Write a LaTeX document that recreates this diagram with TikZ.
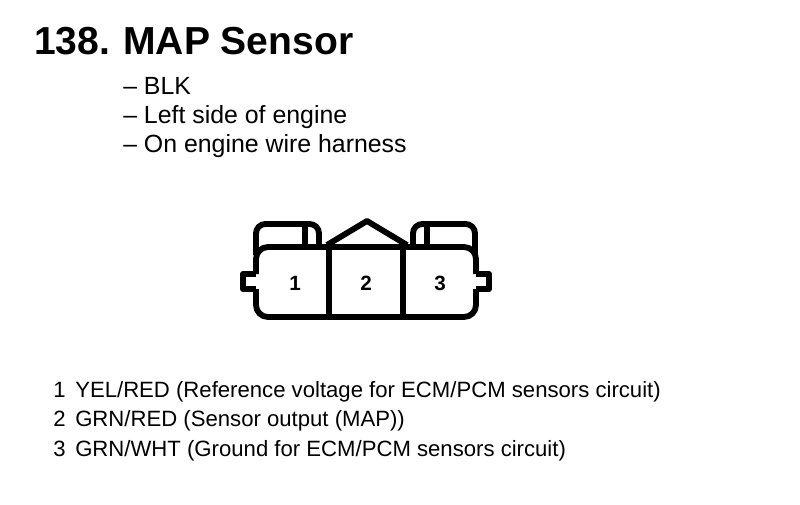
\documentclass[tikz,border=0pt]{standalone}
\usepackage{fontspec}
\setmainfont{Liberation Sans}
\tikzset{
  heading/.style={anchor=base west, inner sep=0pt, font=\fontsize{29.3pt}{32pt}\selectfont\bfseries},
  remark/.style={anchor=base west, inner sep=0pt, font=\fontsize{18.65pt}{21pt}\selectfont},
  pinlabel/.style={inner sep=0pt, font=\fontsize{15.5pt}{18pt}\selectfont\bfseries},
  wirelabel/.style={anchor=base west, inner sep=0pt, font=\fontsize{16.6pt}{19pt}\selectfont},
  housing/.style={line width=4.4pt, line join=round}
}
\begin{document}
\begin{tikzpicture}[x=0.75pt, y=-0.75pt]
  \useasboundingbox (0,0) rectangle (800,504);
  \node[heading] (nr) at (34,54) {138.};
  \node[heading] (title) at (123,54) {MAP Sensor};
  \node[remark] (color) at (123,94) {-- BLK};
  \node[remark] (side) at (123,123) {-- Left side of engine};
  \node[remark] (place) at (123,152) {-- On engine wire harness};
  \draw[housing, rounded corners=9pt]
    (256,289) -- (256,317) -- (476,317) -- (476,289)
    (476,274) -- (476,247) -- (256,247) -- (256,274);
  \draw[housing]
    (256,274) -- (243,274) -- (243,289) -- (256,289)
    (476,289) -- (489,289) -- (489,274) -- (476,274)
    (329,247) -- (329,317)
    (403,247) -- (403,317);
  \draw[housing, rounded corners=7pt]
    (256,255) -- (256,224) -- (319,224) -- (319,247);
  \draw[housing] (305,224) -- (305,247);
  \draw[housing, rounded corners=7pt]
    (413,247) -- (413,224) -- (475,224) -- (475,255);
  \draw[housing] (427,224) -- (427,247);
  \draw[housing] (327,245) -- (367,221) -- (407,245);
  \node[pinlabel] (pinA) at (295,283) {1};
  \node[pinlabel] (pinB) at (366,283) {2};
  \node[pinlabel] (pinC) at (440,283) {3};
  \node[wirelabel] (numA) at (53,397) {1};
  \node[wirelabel] (wireA) at (75,397) {YEL/RED (Reference voltage for ECM/PCM sensors circuit)};
  \node[wirelabel] (numB) at (53,426) {2};
  \node[wirelabel] (wireB) at (75,426) {GRN/RED (Sensor output (MAP))};
  \node[wirelabel] (numC) at (53,456) {3};
  \node[wirelabel] (wireC) at (75,456) {GRN/WHT (Ground for ECM/PCM sensors circuit)};
\end{tikzpicture}
\end{document}
